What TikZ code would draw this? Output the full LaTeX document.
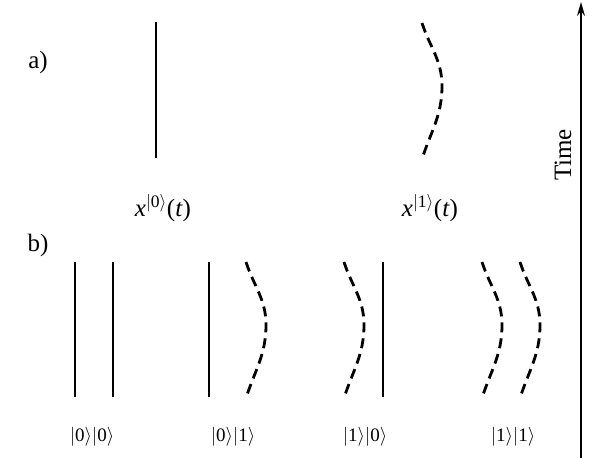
\RequirePackage{fix-cm}
\documentclass[tikz,border=0pt]{standalone}
\usepackage{amsmath,amssymb}
\usepackage{fontspec}
\setmainfont{Liberation Serif}
\usepackage{tikz}
\usetikzlibrary{arrows.meta,calc}
\newcommand{\wavy}[2]{\draw[path1] (#1,#2) to[out=-72,in=90] ($(#1,#2)+(20,63)$) to[out=-90,in=72] ($(#1,#2)+(0,136)$);}
\newcommand{\kt}[1]{$|\text{#1}\rangle$}

\begin{document}
\begin{tikzpicture}[
    x=1pt, y=-1pt,
    path0/.style={line width=2.6pt},
    path1/.style={line width=2.8pt, dash pattern=on 10pt off 6pt},
    panel/.style={font=\fontsize{25}{28}\selectfont},
    traj/.style={font=\fontsize{25}{28}\selectfont},
    ket/.style={font=\fontsize{19}{21}\selectfont, inner sep=0pt},
    arrow/.style={-{Stealth[length=14pt,width=8pt]}, line width=1.6pt}
]
    \useasboundingbox (0,0) rectangle (608,458);

    % panel a
    \node[panel] (a) at (38,62) {a)};
    \draw[path0] (156,22) -- (156,158);
    \wavy{422}{23}
    \node[traj] (x0) at (163,208) {\textit{x}$^{|\text{0}\rangle}$(\textit{t})};
    \node[traj] (x1) at (430,208) {\textit{x}$^{|\text{1}\rangle}$(\textit{t})};

    % panel b
    \node[panel] (b) at (38,245) {b)};
    \draw[path0] (75,262) -- (75,397);
    \draw[path0] (113,262) -- (113,397);
    \draw[path0] (209,262) -- (209,397);
    \wavy{246}{262}
    \wavy{344}{262}
    \draw[path0] (383,262) -- (383,397);
    \wavy{482}{262}
    \wavy{520}{262}
    \node[ket] (k00) at (92,437) {\kt{0}\kt{0}};
    \node[ket] (k01) at (233,437) {\kt{0}\kt{1}};
    \node[ket] (k10) at (365,437) {\kt{1}\kt{0}};
    \node[ket] (k11) at (513,437) {\kt{1}\kt{1}};

    % time axis
    \coordinate (t0) at (581,458);
    \coordinate (t1) at (581,2);
    \draw[arrow] (t0) -- (t1);
    \node[panel, rotate=90] (time) at (563,155) {Time};
\end{tikzpicture}
\end{document}
